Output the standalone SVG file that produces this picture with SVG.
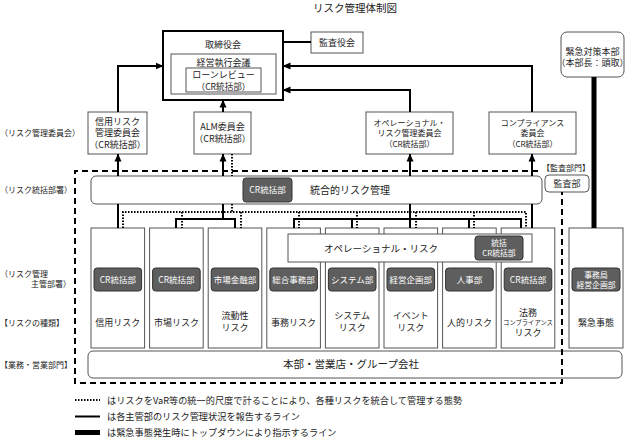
<svg xmlns="http://www.w3.org/2000/svg" width="627" height="439" viewBox="0 0 627 439">
<defs>
<marker id="ah" markerUnits="userSpaceOnUse" markerWidth="8" markerHeight="8" viewBox="0 0 8 8" refX="7.5" refY="4" orient="auto">
<path d="M0,0.5 L8,4 L0,7.5 Z" fill="#000"/>
</marker>
<style>
text{font-family:"Noto Sans CJK JP","Noto Sans CJK SC",sans-serif;fill:#222;text-anchor:middle;font-size:9px}
.lbl{text-anchor:start;font-size:8px}
.box{fill:#fff;stroke:#555;stroke-width:1}
.rbox{fill:#fff;stroke:#555;stroke-width:1}
.dk{fill:#5e5e5e;stroke:#333;stroke-width:1}
.dt{fill:#fff;font-size:8.5px}
.dt2{fill:#fff;font-size:7.8px}
.sm{font-size:8px}
.lg{text-anchor:start;font-size:9.2px}
.ln{fill:none;stroke:#000;stroke-width:2}
.dot{fill:none;stroke:#000;stroke-width:2;stroke-dasharray:1.5 1.5}
.dash{fill:none;stroke:#000;stroke-width:2;stroke-dasharray:6 4}
.arr{marker-end:url(#ah)}
</style>
</defs>
<rect width="627" height="439" fill="#fff"/>
<text x="355" y="12" style="font-size:10.5px">リスク管理体制図</text>

<g id="labels">
<text class="lbl" x="0" y="136">（リスク管理委員会）</text>
<text class="lbl" x="0" y="193">（リスク統括部署）</text>
<text class="lbl" x="0" y="277">（リスク管理</text>
<text class="lbl" x="71" y="287" style="text-anchor:end">主管部署）</text>
<text class="lbl" x="0" y="326">【リスクの種類】</text>
<text class="lbl" x="0" y="368">【業務・営業部門】</text>
<text class="lbl" x="542" y="171">【監査部門】</text>
</g>

<g id="board">
<rect x="163" y="31" width="120" height="69" fill="#fff" stroke="#000" stroke-width="2"/>
<text x="223" y="47.5">取締役会</text>
<rect x="171" y="54" width="105" height="40" class="box"/>
<text x="223.5" y="65.5">経営執行会議</text>
<rect x="186" y="68" width="75" height="24" class="box"/>
<text x="223.5" y="78">ローンレビュー</text>
<text x="223.5" y="89.5" style="font-size:8.6px">（CR統括部）</text>
</g>
<g id="auditboard">
<rect x="311" y="32" width="52" height="21" class="box"/>
<text x="337" y="46">監査役会</text>
</g>
<g id="emergencyhq">
<rect x="561" y="32" width="63" height="45" rx="6" class="rbox"/>
<text x="592.5" y="54.5">緊急対策本部</text>
<text x="592.5" y="66">（本部長：頭取）</text>
</g>

<g id="credit-committee">
<rect x="88" y="112" width="59" height="42" class="box"/>
<text x="117.5" y="124.5">信用リスク</text>
<text x="117.5" y="136">管理委員会</text>
<text x="117.5" y="147.5">（CR統括部）</text>
</g>
<g id="alm-committee">
<rect x="194" y="112" width="57" height="42" class="box"/>
<text x="222.5" y="130">ALM委員会</text>
<text x="222.5" y="141.5">（CR統括部）</text>
</g>
<g id="op-committee">
<rect x="366" y="112" width="87" height="42" class="box"/>
<text x="409.5" y="125.5" class="sm">オペレーショナル・</text>
<text x="409.5" y="136" class="sm">リスク管理委員会</text>
<text x="409.5" y="146.5" class="sm">（CR統括部）</text>
</g>
<g id="compliance-committee">
<rect x="489" y="112" width="87" height="42" class="box"/>
<text x="532.5" y="125.5" class="sm">コンプライアンス</text>
<text x="532.5" y="136" class="sm">委員会</text>
<text x="532.5" y="146.5" class="sm">（CR統括部）</text>
</g>

<g id="integrated">
<rect x="91" y="176" width="451" height="28" rx="5" class="rbox"/>
<rect x="243" y="178" width="49" height="24" rx="3" class="dk"/>
<text x="267.5" y="193" class="dt">CR統括部</text>
<text x="350" y="193.5" style="font-size:10px">統合的リスク管理</text>
</g>
<g id="audit">
<rect x="545" y="175" width="44" height="17" rx="4" class="rbox"/>
<text x="567" y="187">監査部</text>
</g>

<g id="col-credit">
<rect x="91" y="228" width="53.6" height="120" class="box"/>
<rect x="94" y="268" width="47.6" height="23" rx="3" class="dk"/>
<text x="117.8" y="282.5" class="dt">CR統括部</text>
<text x="117.8" y="325.5">信用リスク</text>
</g>
<g id="col-market">
<rect x="149.6" y="228" width="53.6" height="120" class="box"/>
<rect x="152.6" y="268" width="47.6" height="23" rx="3" class="dk"/>
<text x="176.4" y="282.5" class="dt">CR統括部</text>
<text x="176.4" y="325.5">市場リスク</text>
</g>
<g id="col-liquidity">
<rect x="208.2" y="228" width="53.6" height="120" class="box"/>
<rect x="211.2" y="268" width="47.6" height="23" rx="3" class="dk"/>
<text x="235" y="282.5" class="dt">市場金融部</text>
<text x="235" y="319">流動性</text>
<text x="235" y="331">リスク</text>
</g>
<g id="col-admin">
<rect x="266.8" y="228" width="53.6" height="120" class="box"/>
<rect x="269.8" y="268" width="47.6" height="23" rx="3" class="dk"/>
<text x="293.6" y="282.5" class="dt">総合事務部</text>
<text x="293.6" y="325.5">事務リスク</text>
</g>
<g id="col-system">
<rect x="325.4" y="228" width="53.6" height="120" class="box"/>
<rect x="328.4" y="268" width="47.6" height="23" rx="3" class="dk"/>
<text x="352.2" y="282.5" class="dt">システム部</text>
<text x="352.2" y="319">システム</text>
<text x="352.2" y="331">リスク</text>
</g>
<g id="col-event">
<rect x="384" y="228" width="53.6" height="120" class="box"/>
<rect x="387" y="268" width="47.6" height="23" rx="3" class="dk"/>
<text x="410.8" y="282.5" class="dt">経営企画部</text>
<text x="410.8" y="319">イベント</text>
<text x="410.8" y="331">リスク</text>
</g>
<g id="col-human">
<rect x="442.6" y="228" width="53.6" height="120" class="box"/>
<rect x="445.6" y="268" width="47.6" height="23" rx="3" class="dk"/>
<text x="469.4" y="282.5" class="dt">人事部</text>
<text x="469.4" y="325.5">人的リスク</text>
</g>
<g id="col-legal">
<rect x="501.2" y="228" width="53.6" height="120" class="box"/>
<rect x="504.2" y="268" width="47.6" height="23" rx="3" class="dk"/>
<text x="528" y="282.5" class="dt">CR統括部</text>
<text x="528" y="315.5">法務</text>
<text x="528" y="325" style="font-size:6.3px">コンプライアンス</text>
<text x="528" y="335.5">リスク</text>
</g>
<g id="col-emergency">
<rect x="569" y="228" width="54" height="120" class="box"/>
<rect x="572" y="268" width="48" height="23" rx="3" class="dk"/>
<text x="596" y="277.5" class="dt2">事務局</text>
<text x="596" y="287.5" class="dt2">経営企画部</text>
<text x="596" y="325.5">緊急事態</text>
</g>

<g id="operational">
<rect x="288" y="234" width="244" height="28" class="box"/>
<text x="381" y="251.5" style="font-size:9.5px">オペレーショナル・リスク</text>
<rect x="475" y="236" width="48" height="24" rx="3" class="dk"/>
<text x="499" y="246" class="dt2">統括</text>
<text x="499" y="256" class="dt2">CR統括部</text>
</g>

<g id="business">
<rect x="88" y="351" width="534" height="27" rx="5" class="rbox"/>
<text x="351" y="368" style="font-size:10.5px">本部・営業店・グループ会社</text>
</g>

<g id="connectors">
<path class="ln" d="M283,42 H311"/>
<path class="ln arr" d="M118,112 V66 H163"/>
<path class="ln arr" d="M223,112 V100"/>
<path class="ln arr" d="M410,112 V90 H283"/>
<path class="ln arr" d="M532,112 V66 H283"/>
<path class="ln arr" d="M118,176 V154"/>
<path class="ln arr" d="M223,176 V154"/>
<path class="ln arr" d="M410,176 V154"/>
<path class="ln arr" d="M532,176 V154"/>
<path class="dot" d="M232,154 V176"/>
<path class="ln" d="M118,204 V228"/>
<path class="ln" d="M223,204 V219 M176,228 V219 H235 V228"/>
<path class="ln" d="M410,204 V228 M294,228 V219 H521 V228 M352,219 V228 M469,219 V228"/>
<path class="ln" d="M532,204 V228"/>
<path class="dot" d="M232,204 V212 M123,228 V212 H526 V228 M182,212 V228 M241,212 V228 M299,212 V228 M357,212 V228 M416,212 V228 M474,212 V228"/>
<path class="dash" d="M538,171 H75 V383 H562 V192"/>
<path fill="none" stroke="#000" stroke-width="5" d="M594,77 V228"/>
</g>

<g id="legend">
<path class="dot" d="M75,400 H100"/>
<text class="lg" x="107" y="403.5">はリスクをVaR等の統一的尺度で計ることにより、各種リスクを統合して管理する態勢</text>
<path class="ln" d="M75,416.5 H100"/>
<text class="lg" x="107" y="420">は各主管部のリスク管理状況を報告するライン</text>
<rect x="75" y="430" width="25" height="5" fill="#000"/>
<text class="lg" x="107" y="435.5">は緊急事態発生時にトップダウンにより指示するライン</text>
</g>
</svg>
